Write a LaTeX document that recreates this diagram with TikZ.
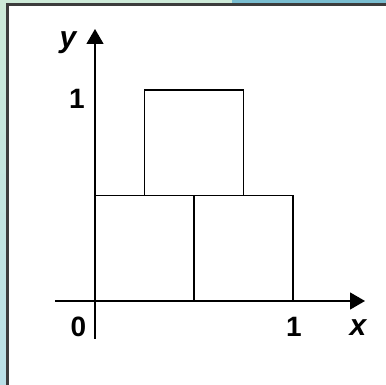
\documentclass[tikz,border=0pt]{standalone}
\usepackage{fontspec}
\setmainfont{Liberation Sans}
\usetikzlibrary{arrows.meta,positioning}

\definecolor{paleGreen}{RGB}{205,234,216}
\definecolor{paleBlue}{RGB}{186,224,231}
\definecolor{stripBlue}{RGB}{121,189,208}
\definecolor{frameGray}{RGB}{60,60,60}

\begin{document}
\begin{tikzpicture}[
    x=1pt, y=1pt,
    box/.style={rectangle, draw, line width=1.4pt, minimum width=99pt, minimum height=105.5pt, inner sep=0pt, outer sep=0pt},
    axis/.style={line width=1.4pt, -{Triangle[width=17pt,length=15pt]}},
    lbl/.style={font=\fontsize{28}{32}\selectfont\bfseries, inner sep=0pt},
    varlbl/.style={lbl, font=\fontsize{30}{32}\selectfont\bfseries\itshape}
]

% background and panel
\useasboundingbox (0,0) rectangle (386,385);
\shade[top color=paleGreen, bottom color=paleBlue] (0,0) rectangle (8,385);
\fill[paleGreen] (0,380) rectangle (232,385);
\fill[stripBlue] (232,380) rectangle (386,385);
\fill[white] (8,0) rectangle (386,380);
\draw[frameGray, line width=2.2pt] (7.5,0) -- (7.5,380.5) -- (386,380.5);

% axes
\coordinate (origin) at (95,84);
\coordinate (xstart) at (55,84);
\coordinate (xend) at (365,84);
\coordinate (ystart) at (95,46);
\coordinate (yend) at (95,356);
\draw[axis] (xstart) -- (xend);
\draw[axis] (ystart) -- (yend);

% squares
\node[box, anchor=south west] (lowleft) at (origin) {};
\node[box, right=0pt of lowleft] (lowright) {};
\node[box, above=0pt of lowleft.north east] (upper) {};

% labels
\node[varlbl] (ylabel) at (68,342) {y};
\node[lbl] (yone) at (77,286) {1};
\node[lbl] (zero) at (78.5,58) {0};
\node[lbl] (xone) at (294,58) {1};
\node[varlbl] (xlabel) at (358,57) {x};

\end{tikzpicture}
\end{document}
